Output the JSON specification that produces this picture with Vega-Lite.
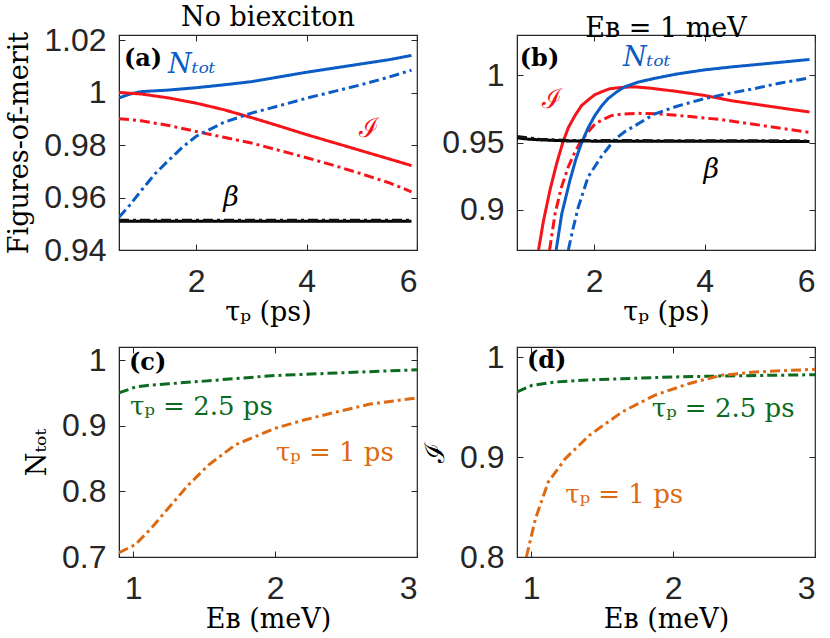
{
  "$schema": "https://vega.github.io/schema/vega-lite/v6.json",
  "background": "white",
  "padding": {"top": 3, "bottom": 0, "left": 5, "right": 5},
  "config": {
    "view": {"stroke": "#262626", "strokeWidth": 1.2},
    "axis": {
      "grid": false,
      "labelFont": "Liberation Sans",
      "labelFontSize": 32,
      "labelColor": "#262626",
      "titleFont": "DejaVu Serif",
      "titleFontSize": 27,
      "titleFontWeight": "normal",
      "titleColor": "#000000",
      "domainColor": "#262626",
      "tickColor": "#262626",
      "tickSize": -6,
      "format": "~g"
    },
    "axisX": {"labelPadding": 22, "titlePadding": 2},
    "axisY": {"labelPadding": 19, "titlePadding": 10},
    "title": {"font": "DejaVu Serif", "fontSize": 27, "fontWeight": "normal", "color": "#000000", "offset": -8}
  },
  "datasets": {
    "curves": [
      {"panel": "a", "series": "Ntot", "x": 0.6, "y": 0.998},
      {"panel": "a", "series": "Ntot", "x": 0.8, "y": 0.9995},
      {"panel": "a", "series": "Ntot", "x": 1.0, "y": 1.0004},
      {"panel": "a", "series": "Ntot", "x": 1.5, "y": 1.001},
      {"panel": "a", "series": "Ntot", "x": 2.0, "y": 1.0019},
      {"panel": "a", "series": "Ntot", "x": 2.5, "y": 1.003},
      {"panel": "a", "series": "Ntot", "x": 3.0, "y": 1.0042},
      {"panel": "a", "series": "Ntot", "x": 3.5, "y": 1.006},
      {"panel": "a", "series": "Ntot", "x": 4.0, "y": 1.0078},
      {"panel": "a", "series": "Ntot", "x": 4.5, "y": 1.0094},
      {"panel": "a", "series": "Ntot", "x": 5.0, "y": 1.011},
      {"panel": "a", "series": "Ntot", "x": 5.5, "y": 1.0126},
      {"panel": "a", "series": "Ntot", "x": 5.9, "y": 1.0142},
      {"panel": "a", "series": "I", "x": 0.6, "y": 1.0001},
      {"panel": "a", "series": "I", "x": 1.0, "y": 0.9995},
      {"panel": "a", "series": "I", "x": 1.5, "y": 0.998},
      {"panel": "a", "series": "I", "x": 2.0, "y": 0.996},
      {"panel": "a", "series": "I", "x": 2.5, "y": 0.9935},
      {"panel": "a", "series": "I", "x": 3.0, "y": 0.9905},
      {"panel": "a", "series": "I", "x": 3.5, "y": 0.9873},
      {"panel": "a", "series": "I", "x": 4.0, "y": 0.984},
      {"panel": "a", "series": "I", "x": 4.5, "y": 0.9809},
      {"panel": "a", "series": "I", "x": 5.0, "y": 0.9778},
      {"panel": "a", "series": "I", "x": 5.5, "y": 0.9747},
      {"panel": "a", "series": "I", "x": 5.9, "y": 0.9722},
      {"panel": "a", "series": "I_dd", "x": 0.6, "y": 0.9901},
      {"panel": "a", "series": "I_dd", "x": 1.0, "y": 0.9893},
      {"panel": "a", "series": "I_dd", "x": 1.5, "y": 0.9875},
      {"panel": "a", "series": "I_dd", "x": 2.0, "y": 0.9852},
      {"panel": "a", "series": "I_dd", "x": 2.5, "y": 0.983},
      {"panel": "a", "series": "I_dd", "x": 3.0, "y": 0.9808},
      {"panel": "a", "series": "I_dd", "x": 3.5, "y": 0.978},
      {"panel": "a", "series": "I_dd", "x": 4.0, "y": 0.9752},
      {"panel": "a", "series": "I_dd", "x": 4.5, "y": 0.9722},
      {"panel": "a", "series": "I_dd", "x": 5.0, "y": 0.969},
      {"panel": "a", "series": "I_dd", "x": 5.5, "y": 0.9656},
      {"panel": "a", "series": "I_dd", "x": 5.9, "y": 0.9622},
      {"panel": "a", "series": "Ntot_dd", "x": 0.6, "y": 0.9525},
      {"panel": "a", "series": "Ntot_dd", "x": 0.8, "y": 0.9572},
      {"panel": "a", "series": "Ntot_dd", "x": 1.0, "y": 0.9626},
      {"panel": "a", "series": "Ntot_dd", "x": 1.25, "y": 0.969},
      {"panel": "a", "series": "Ntot_dd", "x": 1.5, "y": 0.9742},
      {"panel": "a", "series": "Ntot_dd", "x": 1.75, "y": 0.9792},
      {"panel": "a", "series": "Ntot_dd", "x": 2.0, "y": 0.9834},
      {"panel": "a", "series": "Ntot_dd", "x": 2.5, "y": 0.9887},
      {"panel": "a", "series": "Ntot_dd", "x": 3.0, "y": 0.9922},
      {"panel": "a", "series": "Ntot_dd", "x": 3.5, "y": 0.995},
      {"panel": "a", "series": "Ntot_dd", "x": 4.0, "y": 0.9979},
      {"panel": "a", "series": "Ntot_dd", "x": 4.5, "y": 1.0005},
      {"panel": "a", "series": "Ntot_dd", "x": 5.0, "y": 1.0031},
      {"panel": "a", "series": "Ntot_dd", "x": 5.5, "y": 1.006},
      {"panel": "a", "series": "Ntot_dd", "x": 5.9, "y": 1.0086},
      {"panel": "a", "series": "beta", "x": 0.6, "y": 0.951},
      {"panel": "a", "series": "beta", "x": 5.9, "y": 0.951},
      {"panel": "a", "series": "beta_dd", "x": 0.6, "y": 0.9513},
      {"panel": "a", "series": "beta_dd", "x": 5.9, "y": 0.9513},

      {"panel": "b", "series": "I", "x": 0.99, "y": 0.87},
      {"panel": "b", "series": "I", "x": 1.08, "y": 0.8917},
      {"panel": "b", "series": "I", "x": 1.2, "y": 0.915},
      {"panel": "b", "series": "I", "x": 1.32, "y": 0.9346},
      {"panel": "b", "series": "I", "x": 1.43, "y": 0.95},
      {"panel": "b", "series": "I", "x": 1.53, "y": 0.961},
      {"panel": "b", "series": "I", "x": 1.65, "y": 0.97},
      {"panel": "b", "series": "I", "x": 1.77, "y": 0.9775},
      {"panel": "b", "series": "I", "x": 1.9, "y": 0.982},
      {"panel": "b", "series": "I", "x": 2.01, "y": 0.9856},
      {"panel": "b", "series": "I", "x": 2.15, "y": 0.988},
      {"panel": "b", "series": "I", "x": 2.28, "y": 0.99},
      {"panel": "b", "series": "I", "x": 2.5, "y": 0.991},
      {"panel": "b", "series": "I", "x": 2.73, "y": 0.9914},
      {"panel": "b", "series": "I", "x": 3.0, "y": 0.9905},
      {"panel": "b", "series": "I", "x": 3.5, "y": 0.988},
      {"panel": "b", "series": "I", "x": 4.0, "y": 0.985},
      {"panel": "b", "series": "I", "x": 4.5, "y": 0.981},
      {"panel": "b", "series": "I", "x": 5.0, "y": 0.978},
      {"panel": "b", "series": "I", "x": 5.5, "y": 0.975},
      {"panel": "b", "series": "I", "x": 5.9, "y": 0.9727},
      {"panel": "b", "series": "I_dd", "x": 1.19, "y": 0.87},
      {"panel": "b", "series": "I_dd", "x": 1.29, "y": 0.897},
      {"panel": "b", "series": "I_dd", "x": 1.4, "y": 0.916},
      {"panel": "b", "series": "I_dd", "x": 1.53, "y": 0.932},
      {"panel": "b", "series": "I_dd", "x": 1.64, "y": 0.942},
      {"panel": "b", "series": "I_dd", "x": 1.74, "y": 0.9498},
      {"panel": "b", "series": "I_dd", "x": 1.87, "y": 0.957},
      {"panel": "b", "series": "I_dd", "x": 2.01, "y": 0.9636},
      {"panel": "b", "series": "I_dd", "x": 2.15, "y": 0.967},
      {"panel": "b", "series": "I_dd", "x": 2.31, "y": 0.97},
      {"panel": "b", "series": "I_dd", "x": 2.5, "y": 0.9712},
      {"panel": "b", "series": "I_dd", "x": 2.79, "y": 0.9717},
      {"panel": "b", "series": "I_dd", "x": 3.2, "y": 0.9712},
      {"panel": "b", "series": "I_dd", "x": 3.69, "y": 0.9695},
      {"panel": "b", "series": "I_dd", "x": 4.3, "y": 0.967},
      {"panel": "b", "series": "I_dd", "x": 4.89, "y": 0.9636},
      {"panel": "b", "series": "I_dd", "x": 5.4, "y": 0.9605},
      {"panel": "b", "series": "I_dd", "x": 5.9, "y": 0.9575},
      {"panel": "b", "series": "Ntot", "x": 1.31, "y": 0.87},
      {"panel": "b", "series": "Ntot", "x": 1.41, "y": 0.8967},
      {"panel": "b", "series": "Ntot", "x": 1.56, "y": 0.922},
      {"panel": "b", "series": "Ntot", "x": 1.67, "y": 0.938},
      {"panel": "b", "series": "Ntot", "x": 1.77, "y": 0.9497},
      {"panel": "b", "series": "Ntot", "x": 1.89, "y": 0.961},
      {"panel": "b", "series": "Ntot", "x": 2.01, "y": 0.97},
      {"panel": "b", "series": "Ntot", "x": 2.13, "y": 0.977},
      {"panel": "b", "series": "Ntot", "x": 2.25, "y": 0.9826},
      {"panel": "b", "series": "Ntot", "x": 2.4, "y": 0.9875},
      {"panel": "b", "series": "Ntot", "x": 2.55, "y": 0.9914},
      {"panel": "b", "series": "Ntot", "x": 2.8, "y": 0.995},
      {"panel": "b", "series": "Ntot", "x": 3.09, "y": 0.9977},
      {"panel": "b", "series": "Ntot", "x": 3.5, "y": 1.001},
      {"panel": "b", "series": "Ntot", "x": 3.99, "y": 1.004},
      {"panel": "b", "series": "Ntot", "x": 4.5, "y": 1.0063},
      {"panel": "b", "series": "Ntot", "x": 4.89, "y": 1.0078},
      {"panel": "b", "series": "Ntot", "x": 5.4, "y": 1.0098},
      {"panel": "b", "series": "Ntot", "x": 5.9, "y": 1.0118},
      {"panel": "b", "series": "Ntot_dd", "x": 1.53, "y": 0.87},
      {"panel": "b", "series": "Ntot_dd", "x": 1.61, "y": 0.885},
      {"panel": "b", "series": "Ntot_dd", "x": 1.71, "y": 0.9018},
      {"panel": "b", "series": "Ntot_dd", "x": 1.89, "y": 0.9245},
      {"panel": "b", "series": "Ntot_dd", "x": 2.13, "y": 0.9396},
      {"panel": "b", "series": "Ntot_dd", "x": 2.37, "y": 0.9523},
      {"panel": "b", "series": "Ntot_dd", "x": 2.55, "y": 0.958},
      {"panel": "b", "series": "Ntot_dd", "x": 2.73, "y": 0.9623},
      {"panel": "b", "series": "Ntot_dd", "x": 3.09, "y": 0.9712},
      {"panel": "b", "series": "Ntot_dd", "x": 3.5, "y": 0.977},
      {"panel": "b", "series": "Ntot_dd", "x": 3.99, "y": 0.9826},
      {"panel": "b", "series": "Ntot_dd", "x": 4.5, "y": 0.987},
      {"panel": "b", "series": "Ntot_dd", "x": 4.89, "y": 0.99},
      {"panel": "b", "series": "Ntot_dd", "x": 5.4, "y": 0.9945},
      {"panel": "b", "series": "Ntot_dd", "x": 5.9, "y": 0.998},
      {"panel": "b", "series": "beta", "x": 0.6, "y": 0.9535},
      {"panel": "b", "series": "beta", "x": 0.8, "y": 0.9525},
      {"panel": "b", "series": "beta", "x": 1.0, "y": 0.952},
      {"panel": "b", "series": "beta", "x": 1.5, "y": 0.9512},
      {"panel": "b", "series": "beta", "x": 2.0, "y": 0.951},
      {"panel": "b", "series": "beta", "x": 5.9, "y": 0.9508},
      {"panel": "b", "series": "beta_dd", "x": 0.6, "y": 0.9545},
      {"panel": "b", "series": "beta_dd", "x": 1.0, "y": 0.9525},
      {"panel": "b", "series": "beta_dd", "x": 1.5, "y": 0.9515},
      {"panel": "b", "series": "beta_dd", "x": 5.9, "y": 0.9512},

      {"panel": "c", "series": "tp25", "x": 0.9, "y": 0.95},
      {"panel": "c", "series": "tp25", "x": 1.016, "y": 0.959},
      {"panel": "c", "series": "tp25", "x": 1.1, "y": 0.9615},
      {"panel": "c", "series": "tp25", "x": 1.25, "y": 0.964},
      {"panel": "c", "series": "tp25", "x": 1.5, "y": 0.968},
      {"panel": "c", "series": "tp25", "x": 1.75, "y": 0.9725},
      {"panel": "c", "series": "tp25", "x": 2.0, "y": 0.9765},
      {"panel": "c", "series": "tp25", "x": 2.25, "y": 0.9788},
      {"panel": "c", "series": "tp25", "x": 2.5, "y": 0.981},
      {"panel": "c", "series": "tp25", "x": 2.75, "y": 0.9832},
      {"panel": "c", "series": "tp25", "x": 3.0, "y": 0.9853},
      {"panel": "c", "series": "tp1", "x": 0.9, "y": 0.7065},
      {"panel": "c", "series": "tp1", "x": 1.016, "y": 0.719},
      {"panel": "c", "series": "tp1", "x": 1.13, "y": 0.7445},
      {"panel": "c", "series": "tp1", "x": 1.25, "y": 0.775},
      {"panel": "c", "series": "tp1", "x": 1.39, "y": 0.81},
      {"panel": "c", "series": "tp1", "x": 1.53, "y": 0.84},
      {"panel": "c", "series": "tp1", "x": 1.72, "y": 0.871},
      {"panel": "c", "series": "tp1", "x": 2.0, "y": 0.896},
      {"panel": "c", "series": "tp1", "x": 2.19, "y": 0.908},
      {"panel": "c", "series": "tp1", "x": 2.43, "y": 0.921},
      {"panel": "c", "series": "tp1", "x": 2.67, "y": 0.933},
      {"panel": "c", "series": "tp1", "x": 3.0, "y": 0.9424},

      {"panel": "d", "series": "tp25", "x": 0.9, "y": 0.965},
      {"panel": "d", "series": "tp25", "x": 1.006, "y": 0.9717},
      {"panel": "d", "series": "tp25", "x": 1.17, "y": 0.975},
      {"panel": "d", "series": "tp25", "x": 1.4, "y": 0.977},
      {"panel": "d", "series": "tp25", "x": 1.64, "y": 0.9783},
      {"panel": "d", "series": "tp25", "x": 2.0, "y": 0.98},
      {"panel": "d", "series": "tp25", "x": 2.34, "y": 0.981},
      {"panel": "d", "series": "tp25", "x": 2.7, "y": 0.9817},
      {"panel": "d", "series": "tp25", "x": 3.0, "y": 0.9823},
      {"panel": "d", "series": "tp1", "x": 0.966, "y": 0.8},
      {"panel": "d", "series": "tp1", "x": 1.03, "y": 0.8383},
      {"panel": "d", "series": "tp1", "x": 1.12, "y": 0.875},
      {"panel": "d", "series": "tp1", "x": 1.24, "y": 0.8983},
      {"panel": "d", "series": "tp1", "x": 1.41, "y": 0.9217},
      {"panel": "d", "series": "tp1", "x": 1.64, "y": 0.945},
      {"panel": "d", "series": "tp1", "x": 1.87, "y": 0.9617},
      {"panel": "d", "series": "tp1", "x": 2.11, "y": 0.9733},
      {"panel": "d", "series": "tp1", "x": 2.34, "y": 0.9817},
      {"panel": "d", "series": "tp1", "x": 2.58, "y": 0.985},
      {"panel": "d", "series": "tp1", "x": 2.8, "y": 0.9865},
      {"panel": "d", "series": "tp1", "x": 3.0, "y": 0.9877}
    ],
    "labels": [
      {"panel": "a", "role": "tag", "text": "(a)", "x": 0.69, "y": 1.0128},
      {"panel": "a", "role": "N", "text": "Nₜₒₜ", "x": 1.49, "y": 1.0106},
      {"panel": "a", "role": "I", "text": "ℐ", "x": 4.94, "y": 0.986},
      {"panel": "a", "role": "beta", "text": "β", "x": 2.49, "y": 0.96},
      {"panel": "b", "role": "tag", "text": "(b)", "x": 0.65, "y": 1.012},
      {"panel": "b", "role": "N", "text": "Nₜₒₜ", "x": 2.52, "y": 1.0129},
      {"panel": "b", "role": "I", "text": "ℐ", "x": 1.05, "y": 0.9813},
      {"panel": "b", "role": "beta", "text": "β", "x": 3.98, "y": 0.9295},
      {"panel": "c", "role": "tag", "text": "(c)", "x": 0.97, "y": 0.9955},
      {"panel": "c", "role": "t25", "text": "τₚ = 2.5 ps", "x": 0.978, "y": 0.929},
      {"panel": "c", "role": "t1", "text": "τₚ = 1 ps", "x": 2.006, "y": 0.859},
      {"panel": "d", "role": "tag", "text": "(d)", "x": 0.97, "y": 0.996},
      {"panel": "d", "role": "t25", "text": "τₚ = 2.5 ps", "x": 1.85, "y": 0.948},
      {"panel": "d", "role": "t1", "text": "τₚ = 1 ps", "x": 1.24, "y": 0.862}
    ]
  },
  "columns": 2,
  "bounds": "flush",
  "spacing": {"row": 97, "column": 100},
  "resolve": {"scale": {"x": "independent", "y": "independent", "color": "independent", "strokeDash": "independent"}},
  "concat": [
    {
      "width": 298, "height": 215,
      "title": "No biexciton",
      "resolve": {"axis": {"x": "independent", "y": "independent"}},
      "layer": [
        {
          "data": {"name": "curves"},
          "transform": [{"filter": "datum.panel === 'a'"}],
          "mark": {"type": "line", "strokeWidth": 3, "clip": true, "strokeCap": "butt"},
          "encoding": {
            "x": {"field": "x", "type": "quantitative", "scale": {"domain": [0.6, 6], "nice": false, "zero": false}, "axis": {"values": [2, 4, 6], "title": "τₚ (ps)"}},
            "y": {"field": "y", "type": "quantitative", "scale": {"domain": [0.94, 1.022], "nice": false, "zero": false}, "axis": {"values": [0.94, 0.96, 0.98, 1, 1.02], "title": "Figures-of-merit"}},
            "color": {"field": "series", "type": "nominal", "legend": null, "scale": {"domain": ["beta", "beta_dd", "I_dd", "I", "Ntot_dd", "Ntot"], "range": ["#000000", "#111111", "#f5141a", "#f5141a", "#0b5cc4", "#0b5cc4"]}},
            "strokeDash": {"field": "series", "type": "nominal", "legend": null, "scale": {"domain": ["beta", "beta_dd", "I_dd", "I", "Ntot_dd", "Ntot"], "range": [[1, 0], [10, 4, 3, 4], [10, 4, 3, 4], [1, 0], [10, 4, 3, 4], [1, 0]]}}
          }
        },
        {
          "data": {"name": "labels"},
          "transform": [{"filter": "datum.panel === 'a' && datum.role === 'tag'"}],
          "mark": {"type": "text", "font": "DejaVu Serif", "fontSize": 24, "fontWeight": "bold", "align": "left", "baseline": "middle", "color": "#000000"},
          "encoding": {
            "x": {"field": "x", "type": "quantitative", "axis": {"orient": "top", "values": [2, 4, 6], "labels": false, "title": null, "domain": false}},
            "y": {"field": "y", "type": "quantitative", "axis": {"orient": "right", "values": [0.94, 0.96, 0.98, 1, 1.02], "labels": false, "title": null, "domain": false}},
            "text": {"field": "text"}
          }
        },
        {
          "data": {"name": "labels"},
          "transform": [{"filter": "datum.panel === 'a' && datum.role === 'N'"}],
          "mark": {"type": "text", "font": "DejaVu Serif", "fontSize": 27, "fontStyle": "italic", "align": "left", "baseline": "middle", "color": "#0b5cc4"},
          "encoding": {"x": {"field": "x", "type": "quantitative", "axis": null}, "y": {"field": "y", "type": "quantitative", "axis": null}, "text": {"field": "text"}}
        },
        {
          "data": {"name": "labels"},
          "transform": [{"filter": "datum.panel === 'a' && datum.role === 'I'"}],
          "mark": {"type": "text", "font": "DejaVu Serif", "fontSize": 27, "align": "left", "baseline": "middle", "color": "#f5141a"},
          "encoding": {"x": {"field": "x", "type": "quantitative", "axis": null}, "y": {"field": "y", "type": "quantitative", "axis": null}, "text": {"field": "text"}}
        },
        {
          "data": {"name": "labels"},
          "transform": [{"filter": "datum.panel === 'a' && datum.role === 'beta'"}],
          "mark": {"type": "text", "font": "DejaVu Serif", "fontSize": 27, "fontStyle": "italic", "align": "left", "baseline": "middle", "color": "#000000"},
          "encoding": {"x": {"field": "x", "type": "quantitative", "axis": null}, "y": {"field": "y", "type": "quantitative", "axis": null}, "text": {"field": "text"}}
        }
      ]
    },
    {
      "width": 298, "height": 215,
      "title": "Eʙ = 1 meV",
      "resolve": {"axis": {"x": "independent", "y": "independent"}},
      "layer": [
        {
          "data": {"name": "curves"},
          "transform": [{"filter": "datum.panel === 'b'"}],
          "mark": {"type": "line", "strokeWidth": 3, "clip": true, "strokeCap": "butt"},
          "encoding": {
            "x": {"field": "x", "type": "quantitative", "scale": {"domain": [0.6, 6], "nice": false, "zero": false}, "axis": {"values": [2, 4, 6], "title": "τₚ (ps)"}},
            "y": {"field": "y", "type": "quantitative", "scale": {"domain": [0.87, 1.03], "nice": false, "zero": false}, "axis": {"values": [0.9, 0.95, 1], "title": null}},
            "color": {"field": "series", "type": "nominal", "legend": null, "scale": {"domain": ["beta", "beta_dd", "I_dd", "I", "Ntot_dd", "Ntot"], "range": ["#000000", "#111111", "#f5141a", "#f5141a", "#0b5cc4", "#0b5cc4"]}},
            "strokeDash": {"field": "series", "type": "nominal", "legend": null, "scale": {"domain": ["beta", "beta_dd", "I_dd", "I", "Ntot_dd", "Ntot"], "range": [[1, 0], [10, 4, 3, 4], [10, 4, 3, 4], [1, 0], [10, 4, 3, 4], [1, 0]]}}
          }
        },
        {
          "data": {"name": "labels"},
          "transform": [{"filter": "datum.panel === 'b' && datum.role === 'tag'"}],
          "mark": {"type": "text", "font": "DejaVu Serif", "fontSize": 24, "fontWeight": "bold", "align": "left", "baseline": "middle", "color": "#000000"},
          "encoding": {
            "x": {"field": "x", "type": "quantitative", "axis": {"orient": "top", "values": [2, 4, 6], "labels": false, "title": null, "domain": false}},
            "y": {"field": "y", "type": "quantitative", "axis": {"orient": "right", "values": [0.9, 0.95, 1], "labels": false, "title": null, "domain": false}},
            "text": {"field": "text"}
          }
        },
        {
          "data": {"name": "labels"},
          "transform": [{"filter": "datum.panel === 'b' && datum.role === 'N'"}],
          "mark": {"type": "text", "font": "DejaVu Serif", "fontSize": 27, "fontStyle": "italic", "align": "left", "baseline": "middle", "color": "#0b5cc4"},
          "encoding": {"x": {"field": "x", "type": "quantitative", "axis": null}, "y": {"field": "y", "type": "quantitative", "axis": null}, "text": {"field": "text"}}
        },
        {
          "data": {"name": "labels"},
          "transform": [{"filter": "datum.panel === 'b' && datum.role === 'I'"}],
          "mark": {"type": "text", "font": "DejaVu Serif", "fontSize": 27, "align": "left", "baseline": "middle", "color": "#f5141a"},
          "encoding": {"x": {"field": "x", "type": "quantitative", "axis": null}, "y": {"field": "y", "type": "quantitative", "axis": null}, "text": {"field": "text"}}
        },
        {
          "data": {"name": "labels"},
          "transform": [{"filter": "datum.panel === 'b' && datum.role === 'beta'"}],
          "mark": {"type": "text", "font": "DejaVu Serif", "fontSize": 27, "fontStyle": "italic", "align": "left", "baseline": "middle", "color": "#000000"},
          "encoding": {"x": {"field": "x", "type": "quantitative", "axis": null}, "y": {"field": "y", "type": "quantitative", "axis": null}, "text": {"field": "text"}}
        }
      ]
    },
    {
      "width": 298, "height": 210,
      "resolve": {"axis": {"x": "independent", "y": "independent"}},
      "layer": [
        {
          "data": {"name": "curves"},
          "transform": [{"filter": "datum.panel === 'c'"}],
          "mark": {"type": "line", "strokeWidth": 3, "clip": true, "strokeCap": "butt"},
          "encoding": {
            "x": {"field": "x", "type": "quantitative", "scale": {"domain": [0.9, 3], "nice": false, "zero": false}, "axis": {"values": [1, 2, 3], "title": "Eʙ (meV)"}},
            "y": {"field": "y", "type": "quantitative", "scale": {"domain": [0.7, 1.02], "nice": false, "zero": false}, "axis": {"values": [0.7, 0.8, 0.9, 1], "title": "Nₜₒₜ"}},
            "color": {"field": "series", "type": "nominal", "legend": null, "scale": {"domain": ["tp1", "tp25"], "range": ["#dd6a12", "#0c6b1e"]}},
            "strokeDash": {"field": "series", "type": "nominal", "legend": null, "scale": {"domain": ["tp1", "tp25"], "range": [[10, 4, 3, 4], [10, 4, 3, 4]]}}
          }
        },
        {
          "data": {"name": "labels"},
          "transform": [{"filter": "datum.panel === 'c' && datum.role === 'tag'"}],
          "mark": {"type": "text", "font": "DejaVu Serif", "fontSize": 24, "fontWeight": "bold", "align": "left", "baseline": "middle", "color": "#000000"},
          "encoding": {
            "x": {"field": "x", "type": "quantitative", "axis": {"orient": "top", "values": [1, 2, 3], "labels": false, "title": null, "domain": false}},
            "y": {"field": "y", "type": "quantitative", "axis": {"orient": "right", "values": [0.7, 0.8, 0.9, 1], "labels": false, "title": null, "domain": false}},
            "text": {"field": "text"}
          }
        },
        {
          "data": {"name": "labels"},
          "transform": [{"filter": "datum.panel === 'c' && datum.role === 't25'"}],
          "mark": {"type": "text", "font": "DejaVu Serif", "fontSize": 26, "align": "left", "baseline": "middle", "color": "#0c6b1e"},
          "encoding": {"x": {"field": "x", "type": "quantitative", "axis": null}, "y": {"field": "y", "type": "quantitative", "axis": null}, "text": {"field": "text"}}
        },
        {
          "data": {"name": "labels"},
          "transform": [{"filter": "datum.panel === 'c' && datum.role === 't1'"}],
          "mark": {"type": "text", "font": "DejaVu Serif", "fontSize": 26, "align": "left", "baseline": "middle", "color": "#dd6a12"},
          "encoding": {"x": {"field": "x", "type": "quantitative", "axis": null}, "y": {"field": "y", "type": "quantitative", "axis": null}, "text": {"field": "text"}}
        }
      ]
    },
    {
      "width": 298, "height": 210,
      "resolve": {"axis": {"x": "independent", "y": "independent"}},
      "layer": [
        {
          "data": {"name": "curves"},
          "transform": [{"filter": "datum.panel === 'd'"}],
          "mark": {"type": "line", "strokeWidth": 3, "clip": true, "strokeCap": "butt"},
          "encoding": {
            "x": {"field": "x", "type": "quantitative", "scale": {"domain": [0.9, 3], "nice": false, "zero": false}, "axis": {"values": [1, 2, 3], "title": "Eʙ (meV)"}},
            "y": {"field": "y", "type": "quantitative", "scale": {"domain": [0.8, 1.01], "nice": false, "zero": false}, "axis": {"values": [0.8, 0.9, 1], "title": "ℐ"}},
            "color": {"field": "series", "type": "nominal", "legend": null, "scale": {"domain": ["tp1", "tp25"], "range": ["#dd6a12", "#0c6b1e"]}},
            "strokeDash": {"field": "series", "type": "nominal", "legend": null, "scale": {"domain": ["tp1", "tp25"], "range": [[10, 4, 3, 4], [10, 4, 3, 4]]}}
          }
        },
        {
          "data": {"name": "labels"},
          "transform": [{"filter": "datum.panel === 'd' && datum.role === 'tag'"}],
          "mark": {"type": "text", "font": "DejaVu Serif", "fontSize": 24, "fontWeight": "bold", "align": "left", "baseline": "middle", "color": "#000000"},
          "encoding": {
            "x": {"field": "x", "type": "quantitative", "axis": {"orient": "top", "values": [1, 2, 3], "labels": false, "title": null, "domain": false}},
            "y": {"field": "y", "type": "quantitative", "axis": {"orient": "right", "values": [0.8, 0.9, 1], "labels": false, "title": null, "domain": false}},
            "text": {"field": "text"}
          }
        },
        {
          "data": {"name": "labels"},
          "transform": [{"filter": "datum.panel === 'd' && datum.role === 't25'"}],
          "mark": {"type": "text", "font": "DejaVu Serif", "fontSize": 26, "align": "left", "baseline": "middle", "color": "#0c6b1e"},
          "encoding": {"x": {"field": "x", "type": "quantitative", "axis": null}, "y": {"field": "y", "type": "quantitative", "axis": null}, "text": {"field": "text"}}
        },
        {
          "data": {"name": "labels"},
          "transform": [{"filter": "datum.panel === 'd' && datum.role === 't1'"}],
          "mark": {"type": "text", "font": "DejaVu Serif", "fontSize": 26, "align": "left", "baseline": "middle", "color": "#dd6a12"},
          "encoding": {"x": {"field": "x", "type": "quantitative", "axis": null}, "y": {"field": "y", "type": "quantitative", "axis": null}, "text": {"field": "text"}}
        }
      ]
    }
  ]
}
